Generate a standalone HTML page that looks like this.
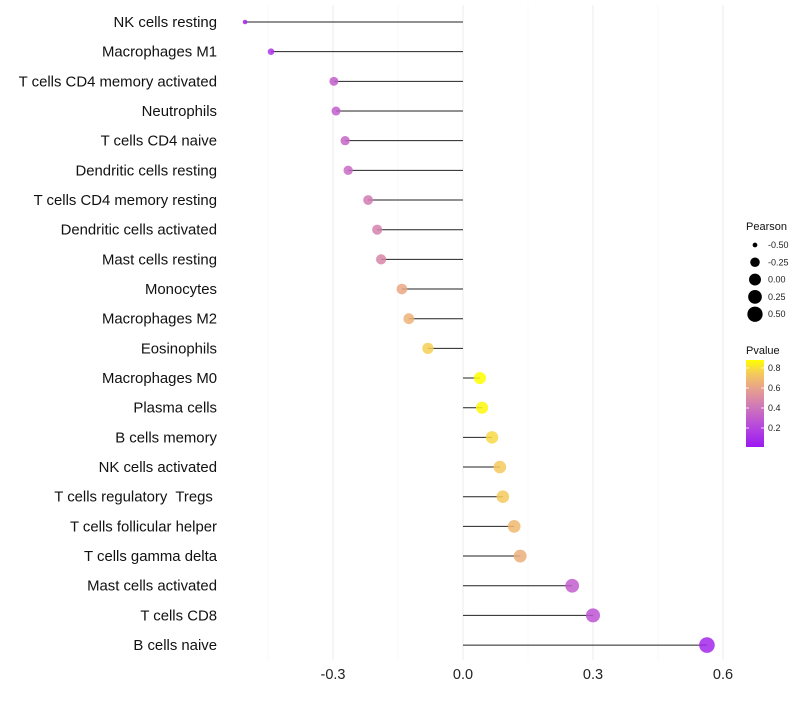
<!DOCTYPE html>
<html><head><meta charset="utf-8"><style>
body{margin:0;background:#fff;font-family:"Liberation Sans",sans-serif}
text{white-space:pre}
</style></head><body>
<svg id="chart" width="800" height="700" xmlns="http://www.w3.org/2000/svg" font-family="Liberation Sans, sans-serif"></svg>
<script>
const categories=["NK cells resting","Macrophages M1","T cells CD4 memory activated","Neutrophils","T cells CD4 naive","Dendritic cells resting","T cells CD4 memory resting","Dendritic cells activated","Mast cells resting","Monocytes","Macrophages M2","Eosinophils","Macrophages M0","Plasma cells","B cells memory","NK cells activated","T cells regulatory  Tregs ","T cells follicular helper","T cells gamma delta","Mast cells activated","T cells CD8","B cells naive"];
const pearson=[-0.503,-0.443,-0.298,-0.293,-0.272,-0.265,-0.219,-0.198,-0.189,-0.141,-0.125,-0.081,0.039,0.044,0.067,0.085,0.092,0.118,0.132,0.252,0.300,0.563];
const pvalue=[0.05,0.12,0.30,0.30,0.33,0.35,0.42,0.45,0.47,0.62,0.66,0.76,0.88,0.86,0.78,0.74,0.74,0.68,0.64,0.30,0.26,0.06];
const xTicks=[-0.3,0.0,0.3,0.6];
const xMinor=[-0.45,-0.15,0.15,0.45];
const sizeLegend=[-0.5,-0.25,0,0.25,0.5];
const pTicks=[0.2,0.4,0.6,0.8];

const svg=document.getElementById('chart');
const NS='http://www.w3.org/2000/svg';
function mk(t,a,p){const e=document.createElementNS(NS,t);for(const k in a)e.setAttribute(k,a[k]);(p||svg).appendChild(e);return e;}
const x=v=>463+v*433.3;
const y=i=>22+i*29.67;
const r=v=>1.8+Math.sqrt(Math.max(0,(v+0.51)/1.07))*6;
const stops=[[0,[155,25,240]],[0.2,[182,70,222]],[0.4,[206,118,186]],[0.6,[232,163,138]],[0.75,[245,204,90]],[0.88,[255,255,0]]];
function col(p){p=Math.max(0,Math.min(0.88,p));for(let i=1;i<stops.length;i++){if(p<=stops[i][0]){const a=stops[i-1],b=stops[i],t=(p-a[0])/(b[0]-a[0]);return 'rgb('+a[1].map((c,j)=>Math.round(c+(b[1][j]-c)*t)).join(',')+')';}}return 'rgb(255,255,0)';}

xMinor.forEach(v=>{const l=mk('line',{x1:x(v),x2:x(v),y1:5,y2:660,stroke:'#f3f3f3','stroke-width':0.6});});
xTicks.forEach(v=>{const l=mk('line',{x1:x(v),x2:x(v),y1:5,y2:660,stroke:'#ebebeb','stroke-width':1});
const t=mk('text',{x:x(v),y:679,'text-anchor':'middle','font-size':14.5,fill:'#222'});t.textContent=v.toFixed(1);});

categories.forEach((c,i)=>{
const t=mk('text',{x:217,y:y(i)+5,'text-anchor':'end','font-size':14.9,fill:'#111'});t.textContent=c;
const l=mk('line',{x1:x(0),x2:x(pearson[i]),y1:y(i),y2:y(i),stroke:'#222','stroke-width':1});
const p=mk('circle',{cx:x(pearson[i]),cy:y(i),r:r(pearson[i]),fill:col(pvalue[i]),'fill-opacity':0.85});
});

let t=mk('text',{x:746,y:230,'font-size':11,fill:'#111'});t.textContent='Pearson';
sizeLegend.forEach((v,i)=>{const cy=245+i*17.3;
const c=mk('circle',{cx:755,cy:cy,r:r(v),fill:'#000'});
const tt=mk('text',{x:768,y:cy+3,'font-size':9,fill:'#222'});tt.textContent=v.toFixed(2);});
t=mk('text',{x:746,y:354,'font-size':11,fill:'#111'});t.textContent='Pvalue';
const defs=mk('defs',{});const g=mk('linearGradient',{id:'pg',x1:0,y1:1,x2:0,y2:0},defs);
stops.forEach(s=>mk('stop',{offset:s[0]/0.88,'stop-color':'rgb('+s[1].join(',')+')'},g));
const bar=mk('rect',{x:746,y:360,width:18,height:87,fill:'url(#pg)'});
pTicks.forEach(v=>{const yy=448-v*100;
mk('line',{x1:746,x2:749,y1:yy,y2:yy,stroke:'#fff','stroke-width':0.8});mk('line',{x1:761,x2:764,y1:yy,y2:yy,stroke:'#fff','stroke-width':0.8});
const tt=mk('text',{x:768,y:yy+3,'font-size':9,fill:'#222'});tt.textContent=v.toFixed(1);});
</script>
</body></html>
